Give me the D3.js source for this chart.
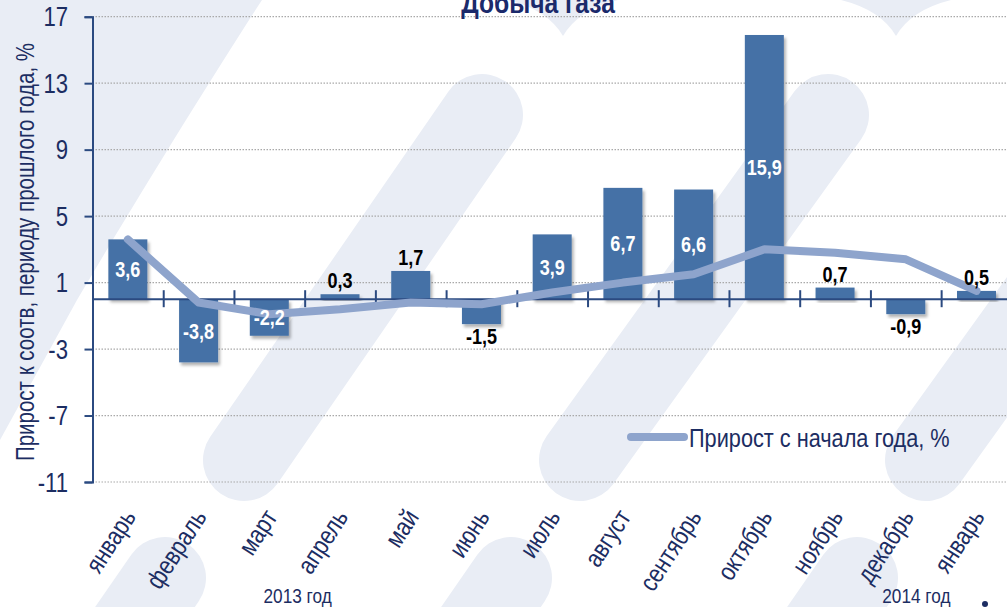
<!DOCTYPE html>
<html>
<head>
<meta charset="utf-8">
<script src="https://cdn.jsdelivr.net/npm/d3@7"></script>
<style>
  body { margin: 0; background: #fff; }
  svg { display: block; }
</style>
</head>
<body>
<div id="chart"></div>
<script>
// data
var categories = ["январь", "февраль", "март", "апрель", "май", "июнь", "июль",
                  "август", "сентябрь", "октябрь", "ноябрь", "декабрь", "январь"];
var monthly = [3.6, -3.8, -2.2, 0.3, 1.7, -1.5, 3.9, 6.7, 6.6, 15.9, 0.7, -0.9, 0.5];
var cumulative = [3.6, -0.2, -0.9, -0.6, -0.2, -0.3, 0.4, 1.0, 1.5, 3.0, 2.8, 2.4, 0.5];
var yTicks = [17, 13, 9, 5, 1, -3, -7, -11];
var yearLabels = ["2013 год", "2014 год"];
var yearPos = [2.9, 11.65]; // in category units from the axis start

var W = 1007, H = 607;
var navy = "#1c2d62", axisCol = "#2b4a80", barCol = "#4571a6", lineCol = "#8ea4cc", bgLight = "#e9edf5";
var FONT = "'Liberation Sans', Arial, sans-serif";

var svg = d3.select("#chart").append("svg")
    .attr("width", W)
    .attr("height", H);

var defs = svg.append("defs");
var f = defs.append("filter").attr("id", "shadow").attr("x", "-20%").attr("y", "-20%").attr("width", "150%").attr("height", "150%");
f.append("feDropShadow").attr("dx", 2).attr("dy", 3).attr("stdDeviation", 1.5)
    .attr("flood-color", "#000").attr("flood-opacity", 0.3);

// background watermark
var bg = svg.append("g");
bg.append("rect").attr("width", W).attr("height", H).attr("fill", "#fff");
bg.append("path").attr("d", "M0,0 L262,0 C210,80 130,210 77,300 L0,440 Z").attr("fill", bgLight);
[[482, 115, 244, 460], [828, 115, 580, 460], [1174, 115, 926, 460],
 [165, 578, 60, 730], [511, 578, 406, 730], [857, 578, 752, 730]].forEach(function(s) {
    bg.append("line").attr("x1", s[0]).attr("y1", s[1]).attr("x2", s[2]).attr("y2", s[3])
      .attr("stroke", bgLight).attr("stroke-width", 82).attr("stroke-linecap", "round");
});
[563, 896].forEach(function(vx) {
    bg.append("path")
      .attr("d", "M" + (vx - 55) + ",0 Q" + (vx - 15) + ",10 " + vx + ",36 Q" + (vx + 15) + ",10 " + (vx + 55) + ",0 Z")
      .attr("fill", bgLight);
});

// narrow text: Arial-like glyphs squeezed along the text direction
function ntext(parent, x, y, rot, str, size) {
    return parent.append("g")
        .attr("transform", "translate(" + x + "," + y + ") rotate(" + rot + ") scale(0.82,1)")
        .append("text")
        .attr("font-family", FONT)
        .attr("font-size", size)
        .text(str);
}

var x0 = 92.5, step = 70.72;
var x = d3.scaleBand().domain(d3.range(categories.length)).range([x0, x0 + step * categories.length]).padding(0);
var xb = d3.scaleLinear().domain([0, categories.length]).range([x0, x0 + step * categories.length]);
var y = d3.scaleLinear().domain([-11, 17]).range([482, 16.7]);
var barW = 39;
var cx = function(i) { return x(i) + x.bandwidth() / 2; };
var fmt = function(v) { return d3.format(".1f")(v).replace(".", ",").replace("\u2212", "-"); };

// gridlines
svg.append("g").selectAll("line").data(yTicks).enter().append("line")
    .attr("x1", x0).attr("x2", W)
    .attr("y1", function(d) { return y(d); }).attr("y2", function(d) { return y(d); })
    .attr("stroke", "#a9a9a9").attr("stroke-width", 1.2).attr("stroke-dasharray", "1.5,1.5");

// y axis
var yAxis = svg.append("g").attr("transform", "translate(" + x0 + ",0)")
    .call(d3.axisLeft(y).tickValues(yTicks).tickSize(8).tickSizeOuter(8).tickFormat(""));
yAxis.selectAll("path, line").attr("stroke", axisCol).attr("stroke-width", 2);
yTicks.forEach(function(t) {
    ntext(svg, 68, y(t), 0, t, 27)
      .attr("text-anchor", "end").attr("dy", "0.36em").attr("fill", navy);
});

// y title
ntext(svg, 34, 252, -90, "Прирост к соотв, периоду прошлого года, %", 25)
    .attr("text-anchor", "middle").attr("fill", navy);

// bars
svg.append("g").selectAll("rect").data(monthly).enter().append("rect")
    .attr("x", function(d, i) { return cx(i) - barW / 2; })
    .attr("y", function(d) { return y(Math.max(0, d)); })
    .attr("width", barW)
    .attr("height", function(d) { return Math.abs(y(d) - y(0)); })
    .attr("fill", barCol)
    .attr("filter", "url(#shadow)");

// x axis with crossing ticks at category boundaries
var xAxis = svg.append("g").attr("transform", "translate(0," + (y(0) - 9) + ")")
    .call(d3.axisBottom(xb).tickValues(d3.range(1, categories.length)).tickSize(17).tickFormat(""));
xAxis.select(".domain").remove();
xAxis.selectAll("line").attr("stroke", axisCol).attr("stroke-width", 2);
svg.append("line").attr("x1", x0).attr("x2", W).attr("y1", y(0)).attr("y2", y(0))
    .attr("stroke", axisCol).attr("stroke-width", 2);

// cumulative line
var line = d3.line().x(function(d, i) { return cx(i); }).y(function(d) { return y(d); });
svg.append("path").datum(cumulative)
    .attr("d", line)
    .attr("fill", "none")
    .attr("stroke", lineCol)
    .attr("stroke-width", 8)
    .attr("stroke-linejoin", "round")
    .attr("stroke-linecap", "round");

// bar labels
monthly.forEach(function(v, i) {
    var inside = Math.abs(v) >= 2;
    var ly, dy;
    if (inside) { ly = (y(v) + y(0)) / 2; dy = "0.36em"; }
    else if (v >= 0) { ly = y(v) - 6; dy = "0"; }
    else { ly = y(v) + 20; dy = "0"; }
    ntext(svg, cx(i), ly, 0, fmt(v), 22)
      .attr("text-anchor", "middle").attr("dy", dy)
      .attr("font-weight", "bold")
      .attr("fill", inside ? "#fff" : "#000");
});

// category labels
categories.forEach(function(c, i) {
    ntext(svg, cx(i) + 9, 517, -57, c, 26)
      .attr("text-anchor", "end").attr("fill", navy);
});

// year labels
yearLabels.forEach(function(t, k) {
    ntext(svg, xb(yearPos[k]), 603, 0, t, 21)
      .attr("text-anchor", "middle").attr("fill", navy);
});

// title
ntext(svg, 538, 13, 0, "Добыча газа", 30)
    .attr("text-anchor", "middle").attr("font-weight", "bold").attr("fill", "#1b2a6b");

// legend
svg.append("line").attr("x1", 631).attr("x2", 684).attr("y1", 437).attr("y2", 437)
    .attr("stroke", lineCol).attr("stroke-width", 8).attr("stroke-linecap", "round");
ntext(svg, 689, 447, 0, "Прирост с начала года, %", 26.5).attr("fill", navy);

svg.append("circle").attr("cx", 985).attr("cy", 604).attr("r", 3).attr("fill", navy);
</script>
</body>
</html>
